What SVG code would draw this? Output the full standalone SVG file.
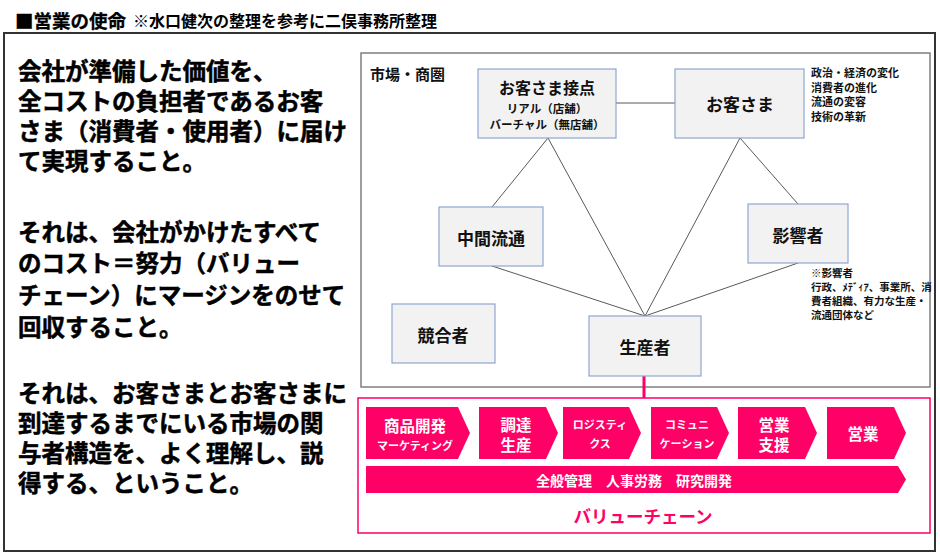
<svg xmlns="http://www.w3.org/2000/svg" width="940" height="553" viewBox="0 0 940 553">
<style>
text{font-family:"Noto Sans CJK JP","Noto Sans CJK SC",sans-serif;font-weight:bold;dominant-baseline:central}
.big{font-size:23.5px;fill:#000;stroke:#000;stroke-width:0.5}
.node rect{fill:#f2f2f2;stroke:#8fa6cf;stroke-width:1.2}
.lbl{font-size:17px;fill:#111;text-anchor:middle}
.sub{font-size:11.5px;fill:#111;text-anchor:middle}
.note{font-size:11px;fill:#111}
.note2{font-size:10.5px;fill:#111}
.chev polygon{fill:#ff0066}
.cw{fill:#fff;text-anchor:middle;font-size:15.5px}
.cs{fill:#fff;text-anchor:middle;font-size:11px}
#connectors line{stroke:#595959;stroke-width:1}
</style>
<rect width="940" height="553" fill="#fff"/>
<!-- title -->
<text x="15" y="20" style="font-size:18.5px;fill:#000;stroke:#000;stroke-width:0.3">■営業の使命</text>
<text x="133" y="20" style="font-size:16px;fill:#000">※水口健次の整理を参考に二俣事務所整理</text>
<!-- outer frame -->
<rect x="4" y="33" width="931" height="518" fill="none" stroke="#333" stroke-width="2"/>
<!-- left text -->
<g id="lefttext" class="big">
<text x="18" y="70">会社が準備した価値を、</text>
<text x="18" y="100">全コストの負担者であるお客</text>
<text x="18" y="130">さま（消費者・使用者）に届け</text>
<text x="18" y="160">て実現すること。</text>
<text x="18" y="231">それは、会社がかけたすべて</text>
<text x="18" y="262">のコスト＝努力（バリュー</text>
<text x="18" y="294">チェーン）にマージンをのせて</text>
<text x="18" y="326">回収すること。</text>
<text x="18" y="392">それは、お客さまとお客さまに</text>
<text x="18" y="422">到達するまでにいる市場の関</text>
<text x="18" y="452">与者構造を、よく理解し、説</text>
<text x="18" y="482">得する、ということ。</text>
</g>
<!-- market frame -->
<g id="market">
<rect x="361" y="53" width="569" height="334" fill="none" stroke="#7f7f7f" stroke-width="1.5"/>
<text x="370" y="73" style="font-size:15px;fill:#111">市場・商圏</text>
</g>
<!-- connectors -->
<g id="connectors">
<line x1="616" y1="103" x2="675" y2="103"/>
<line x1="548" y1="138" x2="492" y2="207"/>
<line x1="548" y1="138" x2="645" y2="316"/>
<line x1="740" y1="138" x2="645" y2="316"/>
<line x1="740" y1="138" x2="798" y2="204"/>
<line x1="492" y1="266" x2="645" y2="316"/>
<line x1="798" y1="263" x2="645" y2="316"/>
<line x1="644" y1="376" x2="644" y2="398" style="stroke:#ff0066;stroke-width:3"/>
</g>
<!-- nodes -->
<g id="node-contact" class="node">
<rect x="478" y="69" width="138" height="69"/>
<text class="lbl" x="547" y="87" style="font-size:16px">お客さま接点</text>
<text class="sub" x="547" y="108">リアル（店舗）</text>
<text class="sub" x="547" y="124">バーチャル（無店舗）</text>
</g>
<g id="node-customer" class="node">
<rect x="675" y="69" width="129" height="69"/>
<text class="lbl" x="740" y="103">お客さま</text>
</g>
<g id="node-mid" class="node">
<rect x="439" y="207" width="104" height="59"/>
<text class="lbl" x="491" y="237">中間流通</text>
</g>
<g id="node-influencer" class="node">
<rect x="748" y="204" width="100" height="59"/>
<text class="lbl" x="798" y="234">影響者</text>
</g>
<g id="node-competitor" class="node">
<rect x="392" y="304" width="103" height="59"/>
<text class="lbl" x="443" y="334">競合者</text>
</g>
<g id="node-producer" class="node">
<rect x="589" y="316" width="112" height="60"/>
<text class="lbl" x="645" y="346">生産者</text>
</g>
<!-- notes -->
<g id="note-env" class="note">
<text x="811" y="72">政治・経済の変化</text>
<text x="811" y="86.5">消費者の進化</text>
<text x="811" y="101">流通の変容</text>
<text x="811" y="115.5">技術の革新</text>
</g>
<g id="note-influencer" class="note2">
<text x="811" y="272">※影響者</text>
<text x="811" y="286">行政、ﾒﾃﾞｨｱ、事業所、消</text>
<text x="811" y="300">費者組織、有力な生産・</text>
<text x="811" y="314">流通団体など</text>
</g>
<!-- value chain -->
<g id="valuechain">
<rect x="358" y="398" width="572" height="135" fill="none" stroke="#ff0066" stroke-width="1.5"/>
<g id="vc-1" class="chev">
<polygon points="366,407 458,407 470,433 458,459 366,459"/>
<text class="cw" x="415" y="425">商品開発</text>
<text class="cs" x="415" y="445">マーケティング</text>
</g>
<g id="vc-2" class="chev">
<polygon points="479,407 546,407 558,433 546,459 479,459"/>
<text class="cw" x="516" y="424">調達</text>
<text class="cw" x="516" y="444">生産</text>
</g>
<g id="vc-3" class="chev">
<polygon points="563,407 629,407 641,433 629,459 563,459"/>
<text class="cs" x="600" y="424">ロジスティ</text>
<text class="cs" x="600" y="443">クス</text>
</g>
<g id="vc-4" class="chev">
<polygon points="651,407 717,407 729,433 717,459 651,459"/>
<text class="cs" x="687" y="424">コミュニ</text>
<text class="cs" x="687" y="443">ケーション</text>
</g>
<g id="vc-5" class="chev">
<polygon points="738,407 805,407 817,433 805,459 738,459"/>
<text class="cw" x="774" y="424">営業</text>
<text class="cw" x="774" y="444">支援</text>
</g>
<g id="vc-6" class="chev">
<polygon points="827,407 894,407 906,433 894,459 827,459"/>
<text class="cw" x="863" y="433">営業</text>
</g>
<g id="vc-support" class="chev">
<polygon points="366,466 898,466 906,479.5 898,493 366,493"/>
<text class="cw" x="634" y="480" style="font-size:14px">全般管理　人事労務　研究開発</text>
</g>
<text x="643" y="515" style="font-size:17.5px;fill:#ff0066;text-anchor:middle">バリューチェーン</text>
</g>
</svg>
